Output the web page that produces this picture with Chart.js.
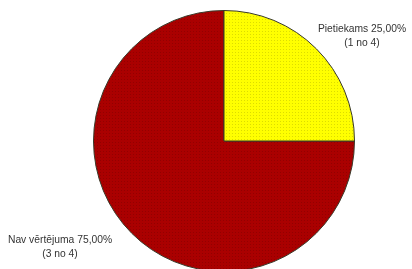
<!DOCTYPE html>
<html>
<head>
<meta charset="utf-8">
<script src="https://cdn.jsdelivr.net/npm/chart.js@4"></script>
<style>
  html, body { margin: 0; padding: 0; background: #fff; overflow: hidden; }
  #wrap { width: 412px; height: 290px; position: relative; }
</style>
</head>
<body>
<div id="wrap"><canvas id="pie"></canvas></div>
<script>
var categories = ['Nav vērtējuma', 'Pietiekams'];
var counts = [3, 1];
var total = 4;
var baseColors = ['#aa0000', '#ffff00'];
var dotColors = ['#920000', '#dcdc00'];

function makePattern(base, dot) {
  var c = document.createElement('canvas');
  c.width = 3;
  c.height = 3;
  var g = c.getContext('2d');
  g.fillStyle = base;
  g.fillRect(0, 0, 3, 3);
  g.fillStyle = dot;
  g.fillRect(1, 1, 1, 1);
  return g.createPattern(c, 'repeat');
}

var patterns = baseColors.map(function (b, i) { return makePattern(b, dotColors[i]); });

// labels outside the slices, like the old Excel pie
var outsideLabels = {
  id: 'outsideLabels',
  afterDatasetsDraw: function (chart) {
    var ctx = chart.ctx;
    var meta = chart.getDatasetMeta(0);
    ctx.save();
    ctx.font = '10.3px "Liberation Sans", Arial, sans-serif';
    ctx.fillStyle = '#333';
    ctx.textAlign = 'center';
    ctx.textBaseline = 'middle';
    meta.data.forEach(function (arc, i) {
      var mid = (arc.startAngle + arc.endAngle) / 2;
      var r = arc.outerRadius * 1.05;
      var px = arc.x + Math.cos(mid) * r;
      var py = arc.y + Math.sin(mid) * r;
      var pct = (counts[i] / total * 100).toFixed(2).replace('.', ',');
      var line1 = categories[i] + ' ' + pct + '%';
      var line2 = '(' + counts[i] + ' no ' + total + ')';
      var w = ctx.measureText(line1).width;
      var cx, y1;
      if (Math.cos(mid) >= 0) {
        cx = px - 3 + w / 2;
        y1 = py - 15;
      } else {
        cx = px - 15 - w / 2;
        y1 = py + 2;
      }
      ctx.fillText(line1, cx, y1);
      ctx.fillText(line2, cx, y1 + 14);
    });
    ctx.restore();
  }
};

new Chart(document.getElementById('pie'), {
  type: 'pie',
  data: {
    labels: categories,
    datasets: [{
      data: counts,
      backgroundColor: patterns,
      borderColor: '#3a3a2a',
      borderWidth: 1
    }]
  },
  options: {
    responsive: true,
    maintainAspectRatio: false,
    animation: false,
    rotation: 90,
    layout: { padding: { left: 93, right: 57, top: 10, bottom: 18 } },
    plugins: {
      legend: { display: false },
      tooltip: { enabled: false }
    }
  },
  plugins: [outsideLabels]
});
</script>
</body>
</html>
